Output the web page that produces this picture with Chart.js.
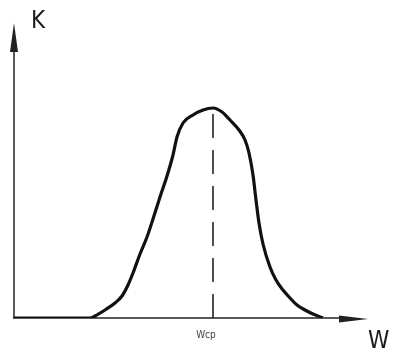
<!DOCTYPE html>
<html>
<head>
<meta charset="utf-8">
<script src="https://cdn.jsdelivr.net/npm/chart.js@4/dist/chart.umd.min.js"></script>
<style>
html,body{margin:0;padding:0;background:#fff;}
#wrap{width:397px;height:356px;}
</style>
</head>
<body>
<div id="wrap"><canvas id="c" width="397" height="356"></canvas></div>
<script>
// Curve values (arbitrary units)
const curveX = [0, 76, 81, 91, 101, 108, 114, 119, 126, 133, 139, 146, 153, 159, 163, 169, 179, 189, 199, 208, 216, 225, 231, 235, 239, 242, 245, 249, 256, 262, 269, 276, 283, 291, 299, 309];
const curveK = [0, 0, 2, 8, 15, 22, 33, 45, 64, 81, 99, 121, 142, 163, 181, 195, 203, 208, 210, 206, 198, 188, 178, 165, 143, 118, 95, 74, 51, 38, 28, 20, 13, 8, 4, 0];
const peakX = 199;
const peakK = 210;
const xMax = 354;
const yMax = 295;
const axisLabelY = 'K';
const axisLabelX = 'W';
const peakLabel = 'Wcp';

const curvePts = curveX.map((x, i) => ({x: x, y: curveK[i]}));
const dashPts = [{x: peakX, y: 0}, {x: peakX, y: peakK}];

const sketchPlugin = {
  id: 'sketch',
  beforeDatasetsDraw(chart) {
    const ctx = chart.ctx;
    const xs = chart.scales.x, ys = chart.scales.y;
    const x0 = xs.getPixelForValue(0), y0 = ys.getPixelForValue(0);
    const xEnd = xs.getPixelForValue(xMax), yEnd = ys.getPixelForValue(yMax);
    ctx.save();
    ctx.strokeStyle = '#222';
    ctx.fillStyle = '#222';
    ctx.lineWidth = 1.5;
    // y axis
    ctx.beginPath(); ctx.moveTo(x0, y0); ctx.lineTo(x0, yEnd + 20); ctx.stroke();
    // x axis
    ctx.beginPath(); ctx.moveTo(x0 - 1, y0); ctx.lineTo(xEnd - 24, y0); ctx.stroke();
    // y arrow
    ctx.beginPath();
    ctx.moveTo(x0, yEnd);
    ctx.lineTo(x0 - 4, yEnd + 29);
    ctx.lineTo(x0 + 4, yEnd + 29);
    ctx.closePath(); ctx.fill();
    // x arrow
    ctx.beginPath();
    ctx.moveTo(xEnd, y0 + 1);
    ctx.lineTo(xEnd - 29, y0 - 2.5);
    ctx.lineTo(xEnd - 29, y0 + 4.5);
    ctx.closePath(); ctx.fill();
    // labels
    ctx.fillStyle = '#1a1a1a';
    ctx.font = '24px "Liberation Sans Narrow", "DejaVu Sans Condensed", "DejaVu Sans", sans-serif';
    ctx.textAlign = 'left';
    ctx.textBaseline = 'alphabetic';
    ctx.fillText(axisLabelY, x0 + 17, yEnd + 5);
    ctx.fillText(axisLabelX, xEnd, y0 + 30);
    ctx.font = '10px "DejaVu Sans Condensed", "DejaVu Sans", sans-serif';
    ctx.fillStyle = '#444';
    ctx.textAlign = 'center';
    ctx.fillText(peakLabel, xs.getPixelForValue(peakX) - 7, y0 + 20);
    ctx.restore();
  }
};

new Chart(document.getElementById('c'), {
  type: 'scatter',
  data: {
    datasets: [
      {
        data: curvePts,
        showLine: true,
        borderColor: '#111',
        borderWidth: 3.2,
        pointRadius: 0,
        cubicInterpolationMode: 'monotone',
        fill: false
      },
      {
        data: dashPts,
        showLine: true,
        borderColor: '#222',
        borderWidth: 1.6,
        borderDash: [24, 12],
        pointRadius: 0,
        fill: false
      }
    ]
  },
  options: {
    responsive: false,
    animation: false,
    events: [],
    layout: {padding: {left: 14, top: 23, right: 29, bottom: 38}},
    plugins: {legend: {display: false}, tooltip: {enabled: false}},
    scales: {
      x: {type: 'linear', min: 0, max: xMax, display: false},
      y: {type: 'linear', min: 0, max: yMax, display: false}
    }
  },
  plugins: [sketchPlugin]
});
</script>
</body>
</html>
